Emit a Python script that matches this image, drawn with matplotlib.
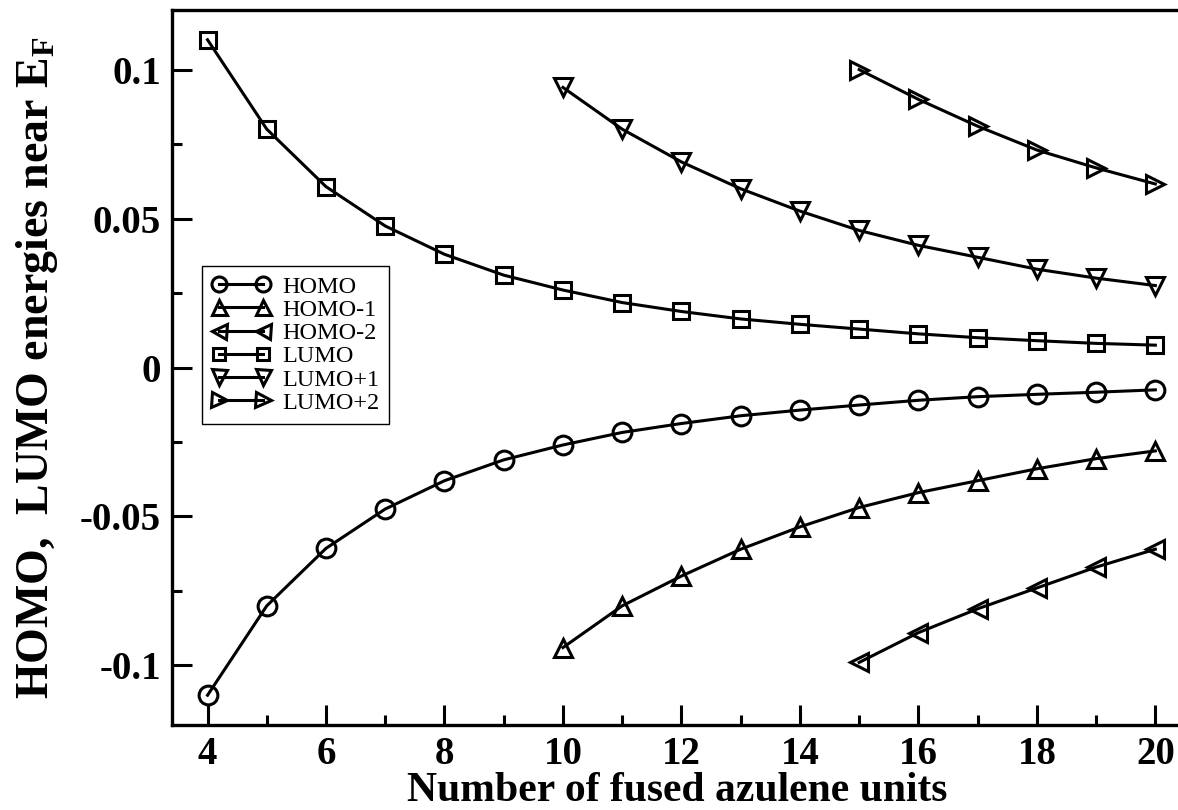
import matplotlib
matplotlib.use("Agg")
import matplotlib.pyplot as plt
from matplotlib.ticker import MultipleLocator

# Number of fused azulene units and frontier orbital energies
n_all = [4, 5, 6, 7, 8, 9, 10, 11, 12, 13, 14, 15, 16, 17, 18, 19, 20]
n_mid = [10, 11, 12, 13, 14, 15, 16, 17, 18, 19, 20]
n_high = [15, 16, 17, 18, 19, 20]

homo = [-0.110, -0.080, -0.0607, -0.0475, -0.038, -0.031, -0.026, -0.0218,
        -0.0188, -0.0162, -0.0143, -0.0126, -0.0110, -0.0098, -0.0090,
        -0.0083, -0.0075]
lumo = [0.110, 0.080, 0.0607, 0.0475, 0.038, 0.031, 0.026, 0.0218,
        0.0188, 0.0163, 0.0145, 0.0129, 0.0113, 0.0100, 0.0090,
        0.0081, 0.0075]
homo_1 = [-0.094, -0.080, -0.070, -0.061, -0.0535, -0.047, -0.042, -0.038,
          -0.034, -0.0306, -0.028]
lumo_1 = [0.094, 0.080, 0.069, 0.060, 0.0525, 0.046, 0.041, 0.037,
          0.033, 0.030, 0.0275]
homo_2 = [-0.099, -0.089, -0.081, -0.074, -0.067, -0.061]
lumo_2 = [0.100, 0.090, 0.081, 0.073, 0.067, 0.0616]

plt.rcParams["font.family"] = ["Liberation Serif", "DejaVu Serif"]
plt.rcParams["mathtext.fontset"] = "custom"
plt.rcParams["mathtext.rm"] = "Liberation Serif:bold"
plt.rcParams["mathtext.bf"] = "Liberation Serif:bold"
plt.rcParams["mathtext.it"] = "Liberation Serif:bold:italic"

W, H = 1178, 810
fig = plt.figure(figsize=(W / 100, H / 100), dpi=100)
ax = fig.add_axes([172 / W, 1 - 725 / H, 1010 / W, 715 / H])

style = dict(color="black", lw=2.2, ms=13.5, mew=2.2, mfc="none")
ax.plot(n_all, homo, marker="o", label="HOMO", **style)
ax.plot(n_mid, homo_1, marker="^", label="HOMO-1", **style)
ax.plot(n_high, homo_2, marker="<", label="HOMO-2", **style)
ax.plot(n_all, lumo, marker="s", label="LUMO", **{**style, "ms": 11.5})
ax.plot(n_mid, lumo_1, marker="v", label="LUMO+1", **style)
ax.plot(n_high, lumo_2, marker=">", label="LUMO+2", **style)

ax.set_xlim(3.4, 20.45)
ax.set_ylim(-0.12, 0.12)
ax.xaxis.set_major_locator(MultipleLocator(2))
ax.xaxis.set_minor_locator(MultipleLocator(1))
ax.yaxis.set_minor_locator(MultipleLocator(0.025))
ax.set_yticks([-0.1, -0.05, 0, 0.05, 0.1])
ax.set_yticklabels(["-0.1", "-0.05", "0", "0.05", "0.1"])

ax.tick_params(which="both", direction="in", width=2.2, top=False, right=False)
ax.tick_params(which="major", length=14.5, pad=8)
ax.tick_params(which="minor", length=7.5)
for lab in ax.get_xticklabels() + ax.get_yticklabels():
    lab.set_fontsize(28)
    lab.set_fontweight("bold")

for side in ("left", "bottom", "top"):
    ax.spines[side].set_linewidth(2.4)
ax.spines["right"].set_visible(False)

ax.set_xlabel("Number of fused azulene units", fontsize=30, fontweight="bold")
ax.xaxis.label.set_va("baseline")
ax.xaxis.set_label_coords(0.5, -(801 - 725) / 715)
ax.set_ylabel(r"HOMO,  LUMO energies near $\mathrm{E}_\mathrm{F}$", fontsize=33,
              fontweight="bold", labelpad=14)

leg = ax.legend(loc="upper left", bbox_to_anchor=((202 - 172) / 1010, (725 - 266) / 715),
                borderaxespad=0, fancybox=False, edgecolor="black",
                fontsize=17.5, markerscale=0.8, handlelength=2.4,
                handletextpad=0.5, labelspacing=0.05, borderpad=0.4,
                numpoints=2, framealpha=1)
leg.get_frame().set_linewidth(1.0)

fig.savefig("out.png", dpi=100)
